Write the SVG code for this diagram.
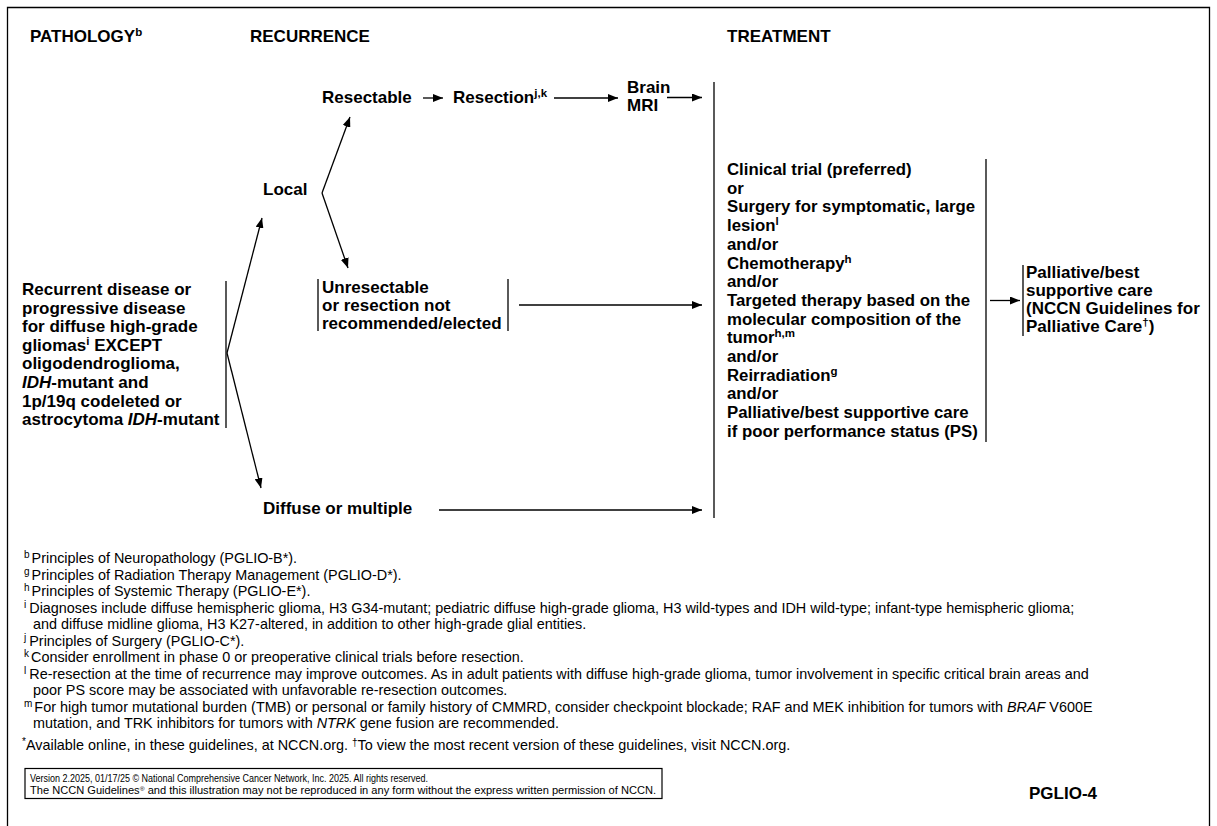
<svg xmlns="http://www.w3.org/2000/svg" width="1217" height="826" viewBox="0 0 1217 826">
<style>
text{font-family:"Liberation Sans",Arial,sans-serif;fill:#000}
.h{font-size:17px;font-weight:bold}
.b{font-size:17px;font-weight:bold}
.t{font-size:16.8px;font-weight:bold}
.s{font-size:11.5px}
.f{font-size:14.4px}
.fs{font-size:10px}
.v{font-size:10px}
.ln{stroke:#000;stroke-width:1.3;fill:none}
.ar{stroke:#000;stroke-width:1.3;fill:none;marker-end:url(#ah)}
</style>
<defs>
<marker id="ah" viewBox="0 0 10 8" refX="10" refY="4" markerWidth="10" markerHeight="8" markerUnits="userSpaceOnUse" orient="auto"><path d="M0,0 L10,4 L0,8 Z" fill="#000"/></marker>
</defs>
<rect width="1217" height="826" fill="#fff"/>
<path d="M7.5,826 V7.5 H1209.5 V826" fill="none" stroke="#000" stroke-width="1.3"/>
<g id="headers">
<text class="h" x="30" y="42">PATHOLOGY<tspan class="s" dy="-6">b</tspan></text>
<text class="h" x="250" y="42">RECURRENCE</text>
<text class="h" x="727" y="42">TREATMENT</text>
</g>
<g id="pathology">
<text class="b" x="22" y="295">Recurrent disease or</text>
<text class="b" x="22" y="313.6">progressive disease</text>
<text class="b" x="22" y="332.2">for diffuse high-grade</text>
<text class="b" x="22" y="350.8">gliomas<tspan class="s" dy="-6">i</tspan><tspan dy="6"> EXCEPT</tspan></text>
<text class="b" x="22" y="369.4">oligodendroglioma,</text>
<text class="b" x="22" y="388"><tspan font-style="italic">IDH</tspan>-mutant and</text>
<text class="b" x="22" y="406.6">1p/19q codeleted or</text>
<text class="b" x="22" y="425.2">astrocytoma <tspan font-style="italic">IDH</tspan>-mutant</text>
<line class="ln" x1="226" y1="281" x2="226" y2="428"/>
</g>
<g id="local"><text class="b" x="263" y="195">Local</text></g>
<g id="diffuse"><text class="b" x="263" y="514">Diffuse or multiple</text></g>
<g id="resectable"><text class="b" x="322" y="103">Resectable</text></g>
<g id="resection"><text class="b" x="453" y="103">Resection<tspan class="s" dy="-6">j,k</tspan></text></g>
<g id="brainmri">
<text class="b" x="627" y="93">Brain</text>
<text class="b" x="627" y="111">MRI</text>
</g>
<g id="unresectable">
<line class="ln" x1="318" y1="279" x2="318" y2="331"/>
<text class="b" x="322" y="293">Unresectable</text>
<text class="b" x="322" y="311">or resection not</text>
<text class="b" x="322" y="329">recommended/elected</text>
<line class="ln" x1="508" y1="279" x2="508" y2="331"/>
</g>
<g id="treatment">
<line class="ln" x1="714" y1="82" x2="714" y2="518"/>
<text class="t" x="727" y="175">Clinical trial (preferred)</text>
<text class="t" x="727" y="193.7">or</text>
<text class="t" x="727" y="212.4">Surgery for symptomatic, large</text>
<text class="t" x="727" y="231.1">lesion<tspan class="s" dy="-6">l</tspan></text>
<text class="t" x="727" y="249.8">and/or</text>
<text class="t" x="727" y="268.5">Chemotherapy<tspan class="s" dy="-6">h</tspan></text>
<text class="t" x="727" y="287.2">and/or</text>
<text class="t" x="727" y="305.9">Targeted therapy based on the</text>
<text class="t" x="727" y="324.6">molecular composition of the</text>
<text class="t" x="727" y="343.3">tumor<tspan class="s" dy="-6">h,m</tspan></text>
<text class="t" x="727" y="362">and/or</text>
<text class="t" x="727" y="380.7">Reirradiation<tspan class="s" dy="-6">g</tspan></text>
<text class="t" x="727" y="399.4">and/or</text>
<text class="t" x="727" y="418.1">Palliative/best supportive care</text>
<text class="t" x="727" y="436.8">if poor performance status (PS)</text>
<line class="ln" x1="986" y1="159" x2="986" y2="442"/>
</g>
<g id="palliative">
<line class="ln" x1="1023" y1="265" x2="1023" y2="336"/>
<text class="b" x="1026" y="277.5">Palliative/best</text>
<text class="b" x="1026" y="295.5">supportive care</text>
<text class="b" x="1026" y="313.5">(NCCN Guidelines for</text>
<text class="b" x="1026" y="331.5">Palliative Care<tspan class="s" dy="-6">†</tspan><tspan dy="6">)</tspan></text>
</g>
<g id="connectors">
<line class="ar" x1="227" y1="353" x2="262" y2="218"/>
<line class="ar" x1="227" y1="353" x2="261" y2="488"/>
<line class="ar" x1="322" y1="193" x2="350" y2="117"/>
<line class="ar" x1="322" y1="193" x2="348" y2="268"/>
<line class="ar" x1="423" y1="98" x2="443" y2="98"/>
<line class="ar" x1="554" y1="98" x2="618" y2="98"/>
<line class="ar" x1="667" y1="97.5" x2="702" y2="97.5"/>
<line class="ar" x1="519" y1="305" x2="702" y2="305"/>
<line class="ar" x1="439" y1="510" x2="702" y2="510"/>
<line class="ar" x1="990" y1="300.5" x2="1020" y2="300.5"/>
</g>
<g id="footnotes">
<text class="f" x="24" y="563"><tspan class="fs" dy="-5">b</tspan><tspan dy="5" dx="2">Principles of Neuropathology (PGLIO-B*).</tspan></text>
<text class="f" x="24" y="579.5"><tspan class="fs" dy="-5">g</tspan><tspan dy="5" dx="2">Principles of Radiation Therapy Management (PGLIO-D*).</tspan></text>
<text class="f" x="24" y="596"><tspan class="fs" dy="-5">h</tspan><tspan dy="5" dx="2">Principles of Systemic Therapy (PGLIO-E*).</tspan></text>
<text class="f" x="24" y="612.5"><tspan class="fs" dy="-5">i</tspan><tspan dy="5" dx="3">Diagnoses include diffuse hemispheric glioma, H3 G34-mutant; pediatric diffuse high-grade glioma, H3 wild-types and IDH wild-type; infant-type hemispheric glioma;</tspan></text>
<text class="f" x="33" y="629">and diffuse midline glioma, H3 K27-altered, in addition to other high-grade glial entities.</text>
<text class="f" x="24" y="645.5"><tspan class="fs" dy="-5">j</tspan><tspan dy="5" dx="3">Principles of Surgery (PGLIO-C*).</tspan></text>
<text class="f" x="24" y="662"><tspan class="fs" dy="-5">k</tspan><tspan dy="5" dx="2">Consider enrollment in phase 0 or preoperative clinical trials before resection.</tspan></text>
<text class="f" x="24" y="678.5"><tspan class="fs" dy="-5">l</tspan><tspan dy="5" dx="3">Re-resection at the time of recurrence may improve outcomes. As in adult patients with diffuse high-grade glioma, tumor involvement in specific critical brain areas and</tspan></text>
<text class="f" x="33" y="695">poor PS score may be associated with unfavorable re-resection outcomes.</text>
<text class="f" x="24" y="711.5"><tspan class="fs" dy="-5">m</tspan><tspan dy="5" dx="2">For high tumor mutational burden (TMB) or personal or family history of CMMRD, consider checkpoint blockade; RAF and MEK inhibition for tumors with <tspan font-style="italic">BRAF</tspan> V600E</tspan></text>
<text class="f" x="33" y="728">mutation, and TRK inhibitors for tumors with <tspan font-style="italic">NTRK</tspan> gene fusion are recommended.</text>
<text class="f" x="22" y="750"><tspan class="fs" dy="-5">*</tspan><tspan dy="5">Available online, in these guidelines, at NCCN.org.  </tspan><tspan class="fs" dy="-4">†</tspan><tspan dy="4">To view the most recent version of these guidelines, visit NCCN.org.</tspan></text>
</g>
<g id="version">
<rect x="25" y="768.5" width="637" height="30" fill="none" stroke="#000" stroke-width="1.2"/>
<text class="v" x="30" y="782" textLength="398" lengthAdjust="spacingAndGlyphs">Version 2.2025, 01/17/25 © National Comprehensive Cancer Network, Inc. 2025. All rights reserved.</text>
<text class="v" x="30" y="794" textLength="626" lengthAdjust="spacingAndGlyphs">The NCCN Guidelines<tspan font-size="6" dy="-3">®</tspan><tspan dy="3"> and this illustration may not be reproduced in any form without the express written permission of NCCN.</tspan></text>
<text class="h" x="1097" y="799" text-anchor="end" font-size="15">PGLIO-4</text>
</g>
</svg>
